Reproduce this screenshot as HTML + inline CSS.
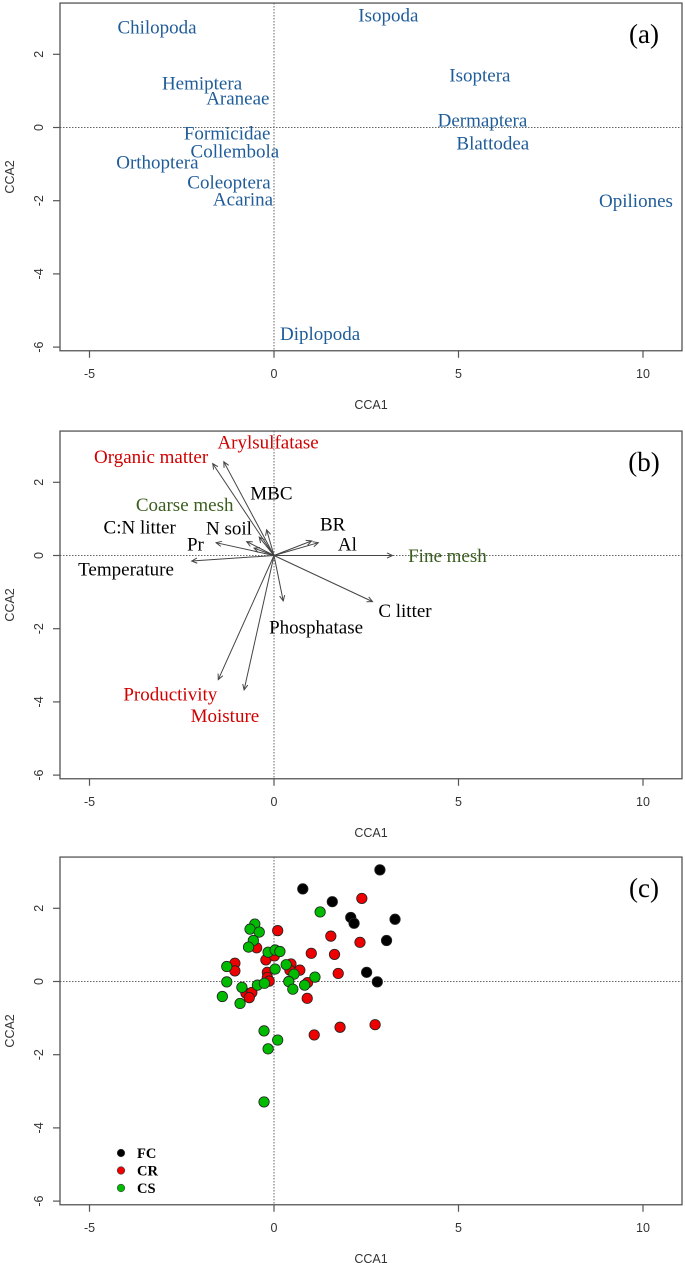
<!DOCTYPE html>
<html><head><meta charset="utf-8"><style>
html,body{margin:0;padding:0;background:#fff;}
svg{display:block;}
</style></head><body>
<svg id="fig" width="685" height="1263" viewBox="0 0 685 1263" xmlns="http://www.w3.org/2000/svg"></svg>
<script>
// ---- Panel (a) species scores ----
const speciesNames = ["Chilopoda","Isopoda","Hemiptera","Araneae","Isoptera","Dermaptera","Formicidae","Blattodea","Collembola","Orthoptera","Coleoptera","Acarina","Opiliones","Diplopoda"];
const speciesX = [-3.17,3.10,-1.95,-0.98,5.58,5.65,-1.27,5.93,-1.06,-3.16,-1.22,-0.84,9.81,1.25];
const speciesY = [2.75,3.08,1.22,0.80,1.44,0.20,-0.15,-0.42,-0.64,-0.94,-1.49,-1.96,-1.99,-5.63];

// ---- Panel (b) environmental vectors ----
const envNames = ["Organic matter","Arylsulfatase","MBC","Coarse mesh","C:N litter","N soil","Pr","BR","Al","Fine mesh","Temperature","C litter","Phosphatase","Productivity","Moisture"];
const envX = [-1.66,-1.36,-0.20,-0.40,-0.54,-0.74,-1.57,1.02,1.20,3.21,-2.23,2.67,0.25,-1.51,-0.81];
const envY = [2.51,2.56,0.70,0.50,0.20,0.38,0.35,0.40,0.35,0.00,-0.15,-1.26,-1.24,-3.39,-3.67];
const envLabelX = [-3.33,-0.16,-0.07,-2.42,-3.64,-1.22,-2.13,1.59,1.99,4.70,-4.01,3.55,1.14,-2.81,-1.33];
const envLabelY = [2.70,3.10,1.71,1.40,0.78,0.75,0.31,0.86,0.31,0.00,-0.37,-1.50,-1.95,-3.78,-4.37];
const envGroup = ["red","red","black","green","black","black","black","black","black","green","black","black","black","red","red"];

// ---- Panel (c) site scores ----
const fcX = [0.78,1.58,2.87,2.08,2.17,3.28,3.05,2.51,2.80];
const fcY = [2.53,2.18,3.05,1.75,1.59,1.70,1.12,0.25,-0.01];
const crX = [2.38,0.10,1.54,2.33,-0.47,1.01,1.64,-0.22,0.01,-1.06,-1.06,0.46,0.43,0.70,1.74,-0.18,-0.18,-0.13,0.91,0.90,-0.76,-0.60,-0.67,1.09,1.79,2.74];
const crY = [2.27,1.39,1.24,1.07,0.92,0.77,0.74,0.59,0.70,0.50,0.29,0.48,0.31,0.31,0.22,0.25,0.11,0.01,-0.03,-0.46,-0.32,-0.30,-0.44,-1.46,-1.25,-1.18];
const csX = [1.25,-0.52,-0.65,-0.40,-0.56,-0.69,-0.16,0.03,0.16,0.33,0.03,0.54,1.11,-1.28,-1.28,-1.40,-0.87,-0.92,-0.45,-0.26,0.40,0.51,0.83,-0.27,-0.16,0.10,-0.27];
const csY = [1.90,1.57,1.43,1.35,1.12,0.94,0.80,0.86,0.82,0.46,0.34,0.20,0.12,0.41,-0.01,-0.41,-0.16,-0.60,-0.10,-0.05,0.00,-0.21,-0.10,-1.35,-1.84,-1.60,-3.29];

const xTicks = [-5,0,5,10];
const yTicks = [2,0,-2,-4,-6];

const NS = "http://www.w3.org/2000/svg";
const svg = document.getElementById("fig");
function mk(tag, attrs, parent){
  const e = document.createElementNS(NS, tag);
  for (const k in attrs) e.setAttribute(k, attrs[k]);
  (parent||svg).appendChild(e);
  return e;
}
const X0 = 274, XS = 36.9, LEFT = 60, RIGHT = 682;
const YS = 36.6, YMAX = 3.4, YMIN = -6.1;
const LABEL_FS = 19;
function sx(v){ return X0 + v*XS; }

function panel(id, zeroY, letter){
  const g = mk("g", {});
  
  
  const sy = v => zeroY - v*YS;
  const top = sy(YMAX), bot = sy(YMIN);
  const hz = mk("line", {x1:LEFT, x2:RIGHT, y1:sy(0), y2:sy(0), stroke:"#666", "stroke-width":1, "stroke-dasharray":"1.5,1.5"}, g);
  
  
  const vz = mk("line", {x1:sx(0), x2:sx(0), y1:top, y2:bot, stroke:"#666", "stroke-width":1, "stroke-dasharray":"1.5,1.5"}, g);
  
  
  const box = mk("rect", {x:LEFT, y:top, width:RIGHT-LEFT, height:bot-top, fill:"none", stroke:"#555", "stroke-width":1.3}, g);
  
  
  xTicks.forEach(t => {
    const tl = mk("line", {x1:sx(t), x2:sx(t), y1:bot, y2:bot+7, stroke:"#555", "stroke-width":1.2}, g);
    
    
    const tx = mk("text", {x:sx(t), y:bot+27, "text-anchor":"middle", "font-family":"Liberation Sans, sans-serif", "font-size":12.5, fill:"#333"}, g);
    tx.textContent = t;
    
    
  });
  yTicks.forEach(t => {
    const tl = mk("line", {x1:LEFT-7, x2:LEFT, y1:sy(t), y2:sy(t), stroke:"#555", "stroke-width":1.2}, g);
    
    
    const tx = mk("text", {x:0, y:0, transform:`translate(${LEFT-17},${sy(t)}) rotate(-90)`, "text-anchor":"middle", "font-family":"Liberation Sans, sans-serif", "font-size":12.5, fill:"#333"}, g);
    tx.textContent = t;
    
    
  });
  const xt = mk("text", {x:(LEFT+RIGHT)/2, y:bot+58, "text-anchor":"middle", "font-family":"Liberation Sans, sans-serif", "font-size":12.5, fill:"#333"}, g);
  xt.textContent = "CCA1";
  
  
  const yt = mk("text", {x:0, y:0, transform:`translate(14,${(top+bot)/2}) rotate(-90)`, "text-anchor":"middle", "font-family":"Liberation Sans, sans-serif", "font-size":12.5, fill:"#333"}, g);
  yt.textContent = "CCA2";
  
  
  const pl = mk("text", {x:644, y:top+40, "text-anchor":"middle", "font-family":"Liberation Serif, serif", "font-size":27, fill:"#000"}, g);
  pl.textContent = letter;
  
  
  return {g, sy};
}

// Panel a
const pa = panel("a", 127.5, "(a)");
speciesNames.forEach((n,i) => {
  const t = mk("text", {x:sx(speciesX[i]), y:pa.sy(speciesY[i])+6.5, "text-anchor":"middle", "font-family":"Liberation Serif, serif", "font-size":LABEL_FS, fill:"#1f5c99"}, pa.g);
  t.textContent = n;
  
  
});

// Panel b
const pb = panel("b", 555.5, "(b)");
const colorMap = {red:"#d00000", black:"#000", green:"#3b5e1f"};
envNames.forEach((n,i) => {
  const ox = sx(0), oy = pb.sy(0);
  const ex = sx(envX[i]), ey = pb.sy(envY[i]);
  const ln = mk("line", {x1:ox, y1:oy, x2:ex, y2:ey, stroke:"#444", "stroke-width":1}, pb.g);
  
  
  const a = Math.atan2(ey-oy, ex-ox), L = 6, w = 0.45;
  const hd = mk("polyline", {points:`${ex-L*Math.cos(a-w)},${ey-L*Math.sin(a-w)} ${ex},${ey} ${ex-L*Math.cos(a+w)},${ey-L*Math.sin(a+w)}`, fill:"none", stroke:"#444", "stroke-width":1}, pb.g);
  
  
  const t = mk("text", {x:sx(envLabelX[i]), y:pb.sy(envLabelY[i])+6.5, "text-anchor":"middle", "font-family":"Liberation Serif, serif", "font-size":LABEL_FS, fill:colorMap[envGroup[i]]}, pb.g);
  t.textContent = n;
  
  
});

// Panel c
const pc = panel("c", 981.5, "(c)");
function pts(xs, ys, fill, name){
  xs.forEach((v,i) => {
    const c = mk("circle", {cx:sx(v), cy:pc.sy(ys[i]), r:5.2, fill:fill, stroke:"#222", "stroke-width":0.8}, pc.g);
    
    
  });
}
pts(crX, crY, "#ee0000", "site-point-cr");
pts(csX, csY, "#00bb00", "site-point-cs");
pts(fcX, fcY, "#000000", "site-point-fc");
const legNames = ["FC","CR","CS"], legCols = ["#000","#ee0000","#00bb00"];
legNames.forEach((n,i) => {
  const y = 1153 + i*17.5;
  const c = mk("circle", {cx:121, cy:y, r:3.8, fill:legCols[i], stroke:"#444", "stroke-width":0.6}, pc.g);
  
  
  const t = mk("text", {x:137, y:y+5, "font-family":"Liberation Serif, serif", "font-weight":"bold", "font-size":14.5, fill:"#000"}, pc.g);
  t.textContent = n;
  
  
});
</script>
</body></html>
